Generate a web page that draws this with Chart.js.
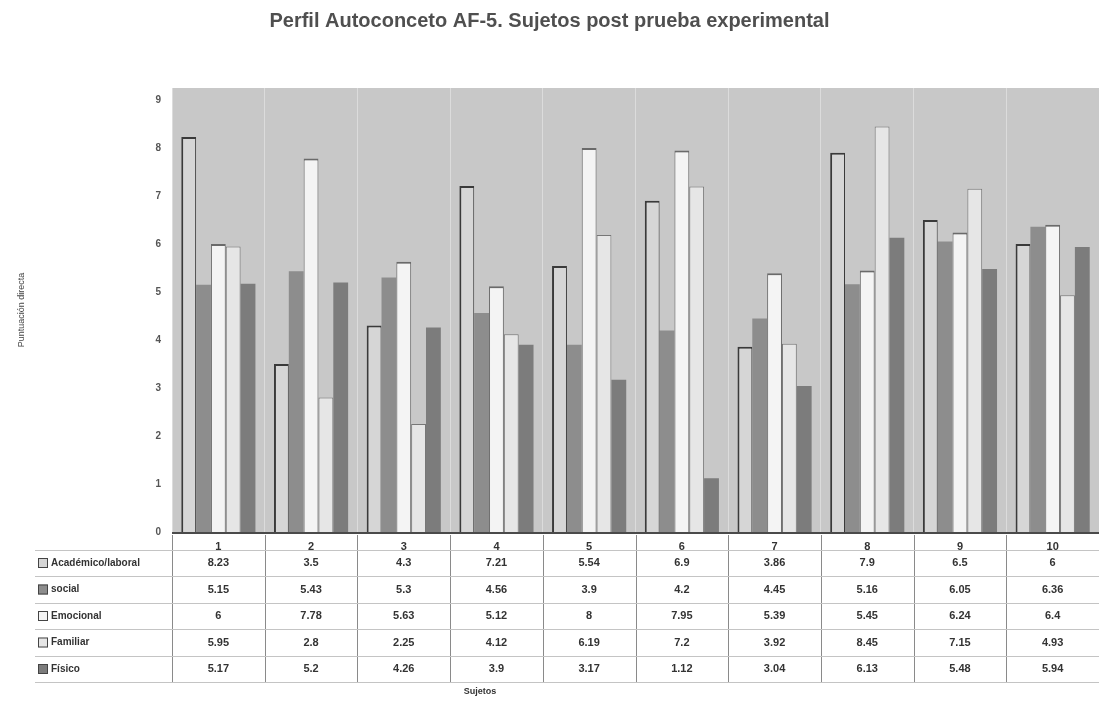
<!DOCTYPE html>
<html>
<head>
<meta charset="utf-8">
<script src="https://cdn.jsdelivr.net/npm/chart.js"></script>
<style>
  html, body { margin: 0; padding: 0; background: #fff; }
</style>
</head>
<body>
<canvas id="myChart" width="1099" height="701"></canvas>
<script>
const sujetos = ["1", "2", "3", "4", "5", "6", "7", "8", "9", "10"];
const academico = [8.23, 3.5, 4.3, 7.21, 5.54, 6.9, 3.86, 7.9, 6.5, 6];
const social = [5.15, 5.43, 5.3, 4.56, 3.9, 4.2, 4.45, 5.16, 6.05, 6.36];
const emocional = [6, 7.78, 5.63, 5.12, 8, 7.95, 5.39, 5.45, 6.24, 6.4];
const familiar = [5.95, 2.8, 2.25, 4.12, 6.19, 7.2, 3.92, 8.45, 7.15, 4.93];
const fisico = [5.17, 5.2, 4.26, 3.9, 3.17, 1.12, 3.04, 6.13, 5.48, 5.94];
const yTicks = [0, 1, 2, 3, 4, 5, 6, 7, 8, 9];

const font = "'Liberation Sans', Arial, sans-serif";
const ctx = document.getElementById('myChart');

const data = {
    labels: sujetos,
    datasets: [
        {
            label: 'Académico/laboral',
            data: academico,
            backgroundColor: '#d6d6d6',
            borderColor: '#3a3a3a',
            borderWidth: { left: 2, top: 2, right: 1, bottom: 0 },
        },
        {
            label: 'social',
            data: social,
            backgroundColor: '#8d8d8d',
            borderColor: '#7a7a7a',
            borderWidth: 0,
        },
        {
            label: 'Emocional',
            data: emocional,
            backgroundColor: '#f4f4f4',
            borderColor: '#6a6a6a',
            borderWidth: { left: 1, top: 2, right: 1, bottom: 0 },
        },
        {
            label: 'Familiar',
            data: familiar,
            backgroundColor: '#e6e6e6',
            borderColor: '#777777',
            borderWidth: { left: 1, top: 1, right: 1, bottom: 0 },
        },
        {
            label: 'Físico',
            data: fisico,
            backgroundColor: '#7c7c7c',
            borderColor: '#6a6a6a',
            borderWidth: 0,
        },
    ]
};

// fondo gris del area de trazado
const fondo = {
    id: 'fondo',
    beforeDraw(chart) {
        const a = chart.chartArea;
        const c = chart.ctx;
        c.save();
        c.fillStyle = '#c8c8c8';
        c.fillRect(a.left, a.top, a.right - a.left, a.bottom - a.top);
        c.restore();
    }
};

// tabla de datos bajo el eje x
const tabla = {
    id: 'tabla',
    afterDraw(chart) {
        const c = chart.ctx;
        const x = chart.scales.x;
        const a = chart.chartArea;
        const colW = (x.right - x.left) / sujetos.length;
        const rowY0 = 563;
        const rowH = 26.5;
        c.save();

        // linea del eje
        c.strokeStyle = '#4a4a4a';
        c.lineWidth = 2;
        c.beginPath();
        c.moveTo(a.left, a.bottom + 1);
        c.lineTo(a.right, a.bottom + 1);
        c.stroke();

        // lineas de la tabla
        c.strokeStyle = '#8a8a8a';
        c.lineWidth = 1;
        for (let i = 0; i <= sujetos.length; i++) {
            const px = Math.round(x.left + i * colW) + 0.5;
            c.beginPath();
            c.moveTo(px, a.bottom + 3);
            c.lineTo(px, rowY0 + 4.5 * rowH);
            c.stroke();
        }
        c.strokeStyle = '#c4c4c4';
        for (let r = 0; r <= 5; r++) {
            const py = Math.round(rowY0 - rowH / 2 + r * rowH) + 0.5;
            c.beginPath();
            c.moveTo(35, py);
            c.lineTo(a.right, py);
            c.stroke();
        }

        c.textBaseline = 'middle';
        chart.data.datasets.forEach((ds, r) => {
            const cy = rowY0 + r * rowH;
            // muestra del color
            c.fillStyle = ds.backgroundColor;
            c.fillRect(38, cy - 5, 10, 10);
            c.strokeStyle = '#444';
            c.lineWidth = 1;
            c.strokeRect(38.5, cy - 4.5, 9, 9);
            c.fillStyle = '#333';
            c.font = 'bold 10px ' + font;
            c.textAlign = 'left';
            c.fillText(ds.label, 51, cy);
            c.textAlign = 'center';
            c.font = 'bold 11px ' + font;
            ds.data.forEach((v, i) => {
                c.fillText(String(v), x.getPixelForValue(i), cy);
            });
        });

        c.font = 'bold 9px ' + font;
        c.fillStyle = '#333';
        c.textAlign = 'center';
        c.fillText('Sujetos', 480, rowY0 + 4.5 * rowH + 9);
        c.restore();
    }
};

new Chart(ctx, {
    type: 'bar',
    data: data,
    plugins: [fondo, tabla],
    options: {
        responsive: false,
        animation: false,
        layout: { padding: 0 },
        datasets: {
            bar: {
                categoryPercentage: 0.8,
                barPercentage: 1.0,
                borderSkipped: false,
            }
        },
        plugins: {
            legend: { display: false },
            tooltip: { enabled: false },
            title: {
                display: true,
                text: 'Perfil Autoconceto AF-5. Sujetos post prueba experimental',
                color: '#4f4f4f',
                font: { family: font, size: 20, weight: 'bold' },
                padding: { top: 9, bottom: 55 },
            },
        },
        scales: {
            x: {
                grid: {
                    display: true,
                    offset: true,
                    color: '#dcdcdc',
                    drawTicks: false,
                },
                border: { display: false },
                ticks: {
                    color: '#333',
                    padding: 8,
                    font: { family: font, size: 11, weight: 'bold' },
                },
                afterFit: (scale) => { scale.height = 169; },
            },
            y: {
                min: 0,
                max: 9.25,
                grid: { display: false },
                border: { display: false },
                afterBuildTicks: (scale) => {
                    scale.ticks = yTicks.map(v => ({ value: v }));
                },
                ticks: {
                    color: '#555',
                    padding: 3,
                    font: { family: font, size: 10, weight: 'bold' },
                },
                title: {
                    display: true,
                    text: 'Puntuación directa',
                    color: '#444',
                    padding: { top: 16 },
                    font: { family: font, size: 9 },
                },
                afterFit: (scale) => { scale.width = 172; },
            }
        }
    }
});
</script>
</body>
</html>
